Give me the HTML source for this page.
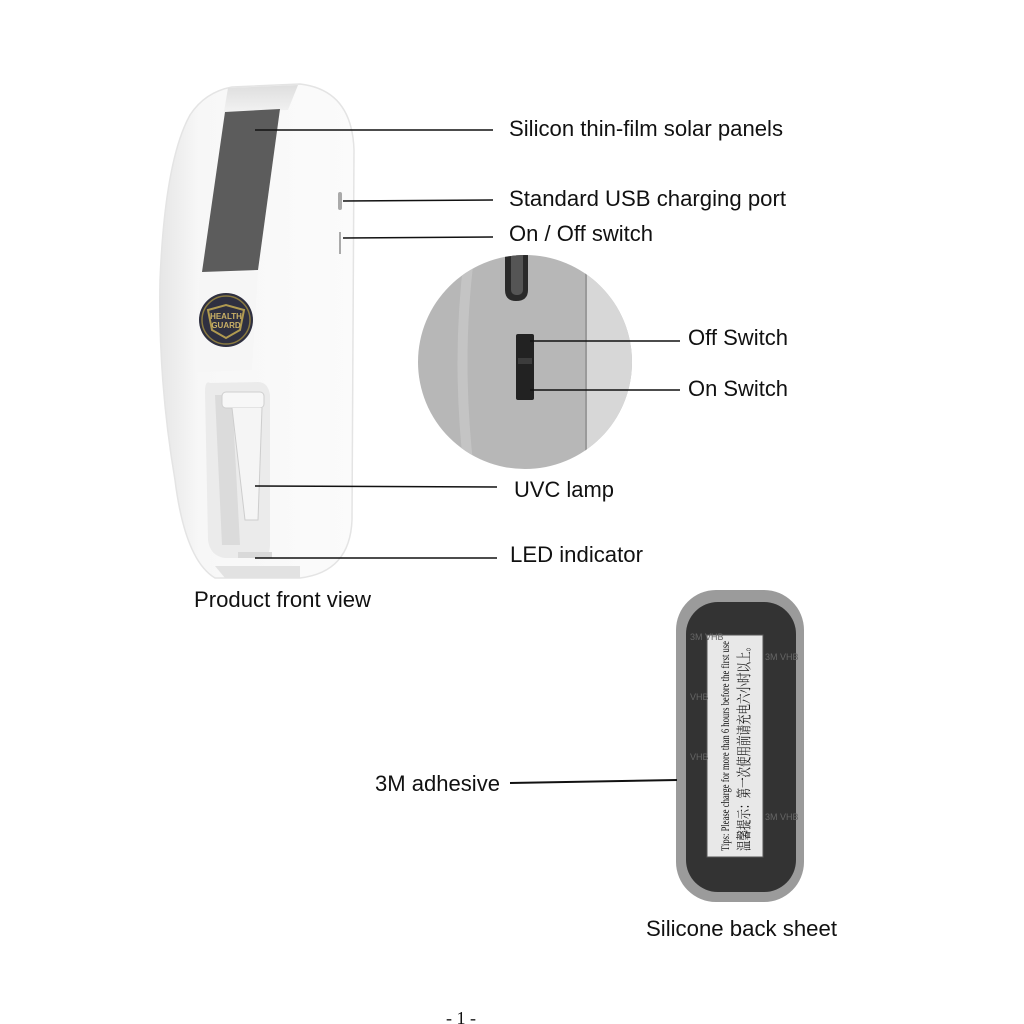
<!DOCTYPE html>
<html><head><meta charset="utf-8"><style>
html,body{margin:0;padding:0;background:#fff}
svg{display:block}
text{font-family:"Liberation Sans",Arial,sans-serif;font-size:22px;fill:#111}
</style></head><body>
<svg width="1024" height="1024" viewBox="0 0 1024 1024" xmlns="http://www.w3.org/2000/svg">
<defs>
<linearGradient id="body" x1="0" x2="1" y1="0" y2="0">
<stop offset="0" stop-color="#e6e6e6"/><stop offset="0.2" stop-color="#f7f7f7"/><stop offset="1" stop-color="#fbfbfb"/>
</linearGradient>
<linearGradient id="band" x1="0" x2="0" y1="0" y2="1">
<stop offset="0" stop-color="#dedede"/><stop offset="1" stop-color="#f2f2f2"/>
</linearGradient>
</defs>
<path d="M232,87 L300,84 Q352,90 354,150 L352,520 Q350,572 300,578 L215,578 Q185,560 175,480 Q158,380 160,280 Q165,160 190,115 Q205,92 232,87 Z" fill="url(#body)" stroke="#e4e4e4" stroke-width="1.5"/>
<path d="M228,88 L298,85 L288,110 L224,112 Z" fill="url(#band)"/>
<path d="M202,272 L225,112 L280,109 L258,270 Z" fill="#5c5c5c"/>
<path d="M200,272 L258,272 L252,370 L196,372 Z" fill="#f6f6f6"/>
<rect x="338" y="192" width="4" height="18" rx="2" fill="#aaa"/>
<rect x="339" y="232" width="2" height="22" fill="#aaa"/>
<circle cx="226" cy="320" r="27" fill="#2f3040"/>
<circle cx="226" cy="320" r="24" fill="none" stroke="#8a7a40" stroke-width="1.5"/>
<path d="M208,310 L226,305 L244,310 L240,330 L226,338 L212,330 Z" fill="none" stroke="#b09a50" stroke-width="2"/>
<text x="226" y="319" text-anchor="middle" style="font-size:8px;fill:#c9b066;font-weight:bold">HEALTH</text>
<text x="226" y="328" text-anchor="middle" style="font-size:8px;fill:#c9b066;font-weight:bold">GUARD</text>
<path d="M210,383 Q205,380 205,392 L208,540 Q210,556 225,558 L262,558 Q270,556 270,545 L270,395 Q268,382 258,382 Z" fill="#ebebeb"/>
<path d="M215,395 L232,395 L240,545 L222,545 Z" fill="#d4d4d4" opacity="0.7"/>
<rect x="222" y="392" width="42" height="16" rx="4" fill="#f7f7f7" stroke="#cfcfcf"/>
<path d="M232,408 L245,520 L258,520 L262,408" fill="#f5f5f5" stroke="#cdcdcd"/>
<rect x="238" y="552" width="34" height="6" fill="#d9d9d9"/>
<path d="M215,566 L300,566 L300,578 L225,578 Z" fill="#e2e2e2"/>
<clipPath id="cc"><circle cx="525" cy="362" r="107"/></clipPath>
<g clip-path="url(#cc)">
<rect x="410" y="250" width="240" height="230" fill="#b7b7b7"/>
<rect x="586" y="250" width="60" height="230" fill="#d7d7d7"/>
<rect x="585" y="250" width="2" height="230" fill="#9a9a9a"/>
<path d="M470,250 Q455,360 470,480" stroke="#c4c4c4" stroke-width="10" fill="none"/>
<path d="M505,250 L505,290 Q505,301 516,301 Q528,301 528,290 L528,250 Z" fill="#2a2a2a"/>
<rect x="511" y="250" width="12" height="45" rx="5" fill="#555"/>
<rect x="516" y="334" width="18" height="66" rx="2" fill="#222"/>
<rect x="518" y="358" width="14" height="6" fill="#3c3c3c"/>
</g>
<rect x="676" y="590" width="128" height="312" rx="40" fill="#9b9b9b"/>
<rect x="686" y="602" width="110" height="290" rx="32" fill="#333"/>
<rect x="707" y="635" width="56" height="222" fill="#e8e8e8" stroke="#555" stroke-width="1"/>
<g transform="translate(735,746) rotate(-90)">
<text x="0" y="-6" text-anchor="middle" style="font-family:'Liberation Serif',serif;font-size:12px" textLength="210" lengthAdjust="spacingAndGlyphs">Tips: Please charge for more than 6 hours before the first use</text>
<text x="0" y="14" text-anchor="middle" style="font-family:'Liberation Serif','Noto Serif CJK SC',serif;font-size:15px" textLength="210" lengthAdjust="spacingAndGlyphs">温馨提示：第一次使用前请充电六小时以上。</text>
</g>
<g style="font-family:'Liberation Serif',serif">
<text x="690" y="640" style="font-size:9px;fill:#666">3M VHB</text>
<text x="765" y="660" style="font-size:9px;fill:#666">3M VHB</text>
<text x="690" y="700" style="font-size:9px;fill:#666">VHB</text>
<text x="690" y="760" style="font-size:9px;fill:#666">VHB</text>
<text x="765" y="820" style="font-size:9px;fill:#666">3M VHB</text>
</g>
<g stroke="#111" stroke-width="1.5">
<line x1="255" y1="130" x2="493" y2="130"/>
<line x1="343" y1="201" x2="493" y2="200"/>
<line x1="343" y1="238" x2="493" y2="237"/>
<line x1="530" y1="341" x2="680" y2="341"/>
<line x1="530" y1="390" x2="680" y2="390"/>
<line x1="255" y1="486" x2="497" y2="487"/>
<line x1="255" y1="558" x2="497" y2="558"/>
<line x1="510" y1="783" x2="677" y2="780" stroke-width="2"/>
</g>
<g>
<text x="509" y="136" textLength="274" lengthAdjust="spacingAndGlyphs">Silicon thin-film solar panels</text>
<text x="509" y="206" textLength="277" lengthAdjust="spacingAndGlyphs">Standard USB charging port</text>
<text x="509" y="241" textLength="144" lengthAdjust="spacingAndGlyphs">On / Off switch</text>
<text x="688" y="345" textLength="100" lengthAdjust="spacingAndGlyphs">Off Switch</text>
<text x="688" y="396" textLength="100" lengthAdjust="spacingAndGlyphs">On Switch</text>
<text x="514" y="497" textLength="100" lengthAdjust="spacingAndGlyphs">UVC lamp</text>
<text x="510" y="562" textLength="133" lengthAdjust="spacingAndGlyphs">LED indicator</text>
<text x="194" y="607" textLength="177" lengthAdjust="spacingAndGlyphs">Product front view</text>
<text x="375" y="791" textLength="125" lengthAdjust="spacingAndGlyphs">3M adhesive</text>
<text x="646" y="936" textLength="191" lengthAdjust="spacingAndGlyphs">Silicone back sheet</text>
</g>
<text x="461" y="1024" text-anchor="middle" style="font-family:'Liberation Serif',serif;font-size:18px">- 1 -</text>
</svg>
</body></html>
